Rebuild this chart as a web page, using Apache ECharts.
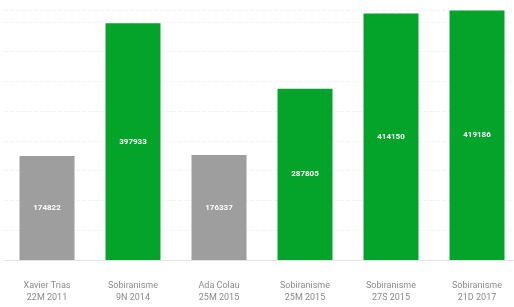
<!DOCTYPE html>
<html>
<head>
<meta charset="utf-8">
<script src="https://cdn.jsdelivr.net/npm/echarts@6/dist/echarts.min.js"></script>
<style>
  html, body { margin: 0; padding: 0; background: #fff; }
  #chart { width: 514px; height: 307px; }
</style>
</head>
<body>
<div id="chart"></div>
<script>
// candidatures / eleccions
const categories = [
  "Xavier Trias\n22M 2011",
  "Sobiranisme\n9N 2014",
  "Ada Colau\n25M 2015",
  "Sobiranisme\n25M 2015",
  "Sobiranisme\n27S 2015",
  "Sobiranisme\n21D 2017"
];
const votes = [174822, 397933, 176337, 287805, 414150, 419186];
const barColors = ["#9e9e9e", "#04a32a", "#9e9e9e", "#04a32a", "#04a32a", "#04a32a"];

const chart = echarts.init(document.getElementById("chart"));

chart.setOption({
  animation: false,
  grid: {
    left: 4,
    right: -6,
    top: 10,
    bottom: 47,
    outerBoundsMode: "none"
  },
  xAxis: {
    type: "category",
    data: categories,
    axisTick: { show: false },
    axisLine: { lineStyle: { color: "#e6e6e6" } },
    axisLabel: {
      color: "#8a8a8a",
      fontFamily: "Roboto",
      fontSize: 9,
      lineHeight: 12,
      margin: 20
    }
  },
  yAxis: {
    type: "value",
    min: 0,
    max: 420000,
    interval: 50000,
    axisLabel: { show: false },
    axisLine: { show: false },
    axisTick: { show: false },
    splitLine: {
      lineStyle: { color: "#f3f3f3", type: "dashed" }
    }
  },
  series: [
    {
      type: "bar",
      barWidth: 55,
      data: votes.map((v, i) => ({ value: v, itemStyle: { color: barColors[i] } })),
      label: {
        show: true,
        position: "inside",
        color: "#fff",
        fontFamily: "Roboto",
        fontSize: 8,
        fontWeight: "bold"
      }
    }
  ]
});
</script>
</body>
</html>
